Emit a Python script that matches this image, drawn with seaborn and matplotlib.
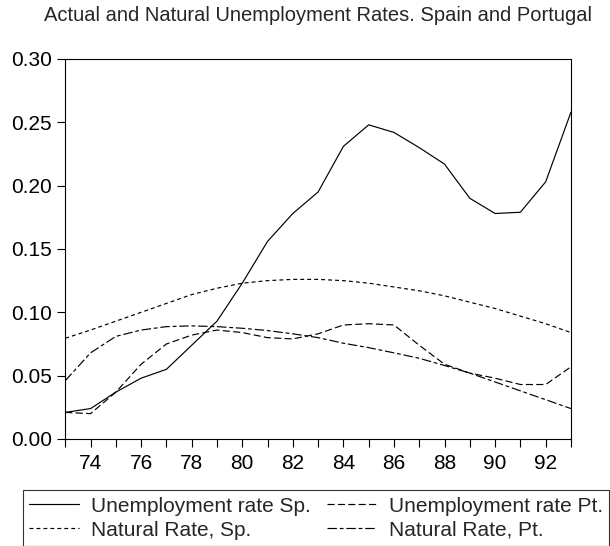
import numpy as np
import pandas as pd
import seaborn as sns
import matplotlib.pyplot as plt

years = list(range(1973, 1994))
unemp_sp = [0.021, 0.024, 0.037, 0.048, 0.055, 0.074, 0.093, 0.123, 0.156, 0.178,
            0.195, 0.231, 0.248, 0.242, 0.230, 0.217, 0.190, 0.178, 0.179, 0.203, 0.258]
unemp_pt = [0.021, 0.020, 0.037, 0.059, 0.075, 0.082, 0.086, 0.084, 0.080, 0.079,
            0.083, 0.090, 0.091, 0.090, 0.074, 0.059, 0.052, 0.048, 0.043, 0.043, 0.057]
natural_sp = [0.0795, 0.086, 0.093, 0.100, 0.107, 0.114, 0.119, 0.123, 0.125, 0.126,
              0.126, 0.125, 0.123, 0.120, 0.117, 0.113, 0.108, 0.103, 0.097, 0.091, 0.084]
natural_pt = [0.046, 0.068, 0.081, 0.086, 0.0887, 0.0893, 0.0887, 0.0874, 0.0856, 0.083,
              0.080, 0.0756, 0.0721, 0.068, 0.0637, 0.058, 0.052, 0.045, 0.038, 0.031, 0.024]

labels = ['Unemployment rate Sp.', 'Natural Rate, Sp.',
          'Unemployment rate Pt.', 'Natural Rate, Pt.']
series = [unemp_sp, natural_sp, unemp_pt, natural_pt]
dashes = [None, (3.3, 2.6), (6, 2.8), (8, 2.4, 3.2, 2.4)]

sns.set_style('white')
plt.rcParams['font.family'] = ['Liberation Sans', 'DejaVu Sans']

fig = plt.figure(figsize=(6.1, 5.46), dpi=100)
ax = fig.add_axes([0.107, 0.196, 0.829, 0.696])

for lab, vals, d in zip(labels, series, dashes):
    df = pd.DataFrame({'year': years, 'value': vals})
    sns.lineplot(x='year', y='value', data=df, ax=ax, color='black',
                 linewidth=0.85, label=lab)
    if d is not None:
        ax.lines[-1].set_dashes(d)

ax.set_xlim(1973, 1993)
ax.set_ylim(0, 0.30)
ax.set_xticks(years)
ax.set_xticklabels([str(y)[2:] for y in years])
for ind, label in enumerate(ax.get_xticklabels()):
    label.set_visible(ind % 2 == 1)
ax.set_yticks(np.arange(0, 0.31, 0.05))
ax.set_yticklabels(['%.2f' % v for v in np.arange(0, 0.31, 0.05)])
ax.tick_params(axis='both', direction='out', length=5.5, width=0.8, labelsize=15,
               bottom=True, left=True, colors='black')
ax.tick_params(axis='y', pad=4)
ax.tick_params(axis='x', pad=5)
ax.set_xlabel('')
ax.set_ylabel('')
for s in ax.spines.values():
    s.set_color('black')
    s.set_linewidth(0.8)

fig.text(0.521, 0.9725, 'Actual and Natural Unemployment Rates. Spain and Portugal',
         ha='center', va='center', fontsize=14.5)

leg = ax.legend(loc='upper left', bbox_to_anchor=(0.0377, 0.102), bbox_transform=fig.transFigure,
                ncol=2, fontsize=15, frameon=True, fancybox=False, edgecolor='black',
                handlelength=2.4, handletextpad=0.55, columnspacing=0.8,
                labelspacing=0.25, borderpad=0.3, borderaxespad=0)
leg.get_frame().set_linewidth(0.8)

plt.savefig('out.png', dpi=100)
